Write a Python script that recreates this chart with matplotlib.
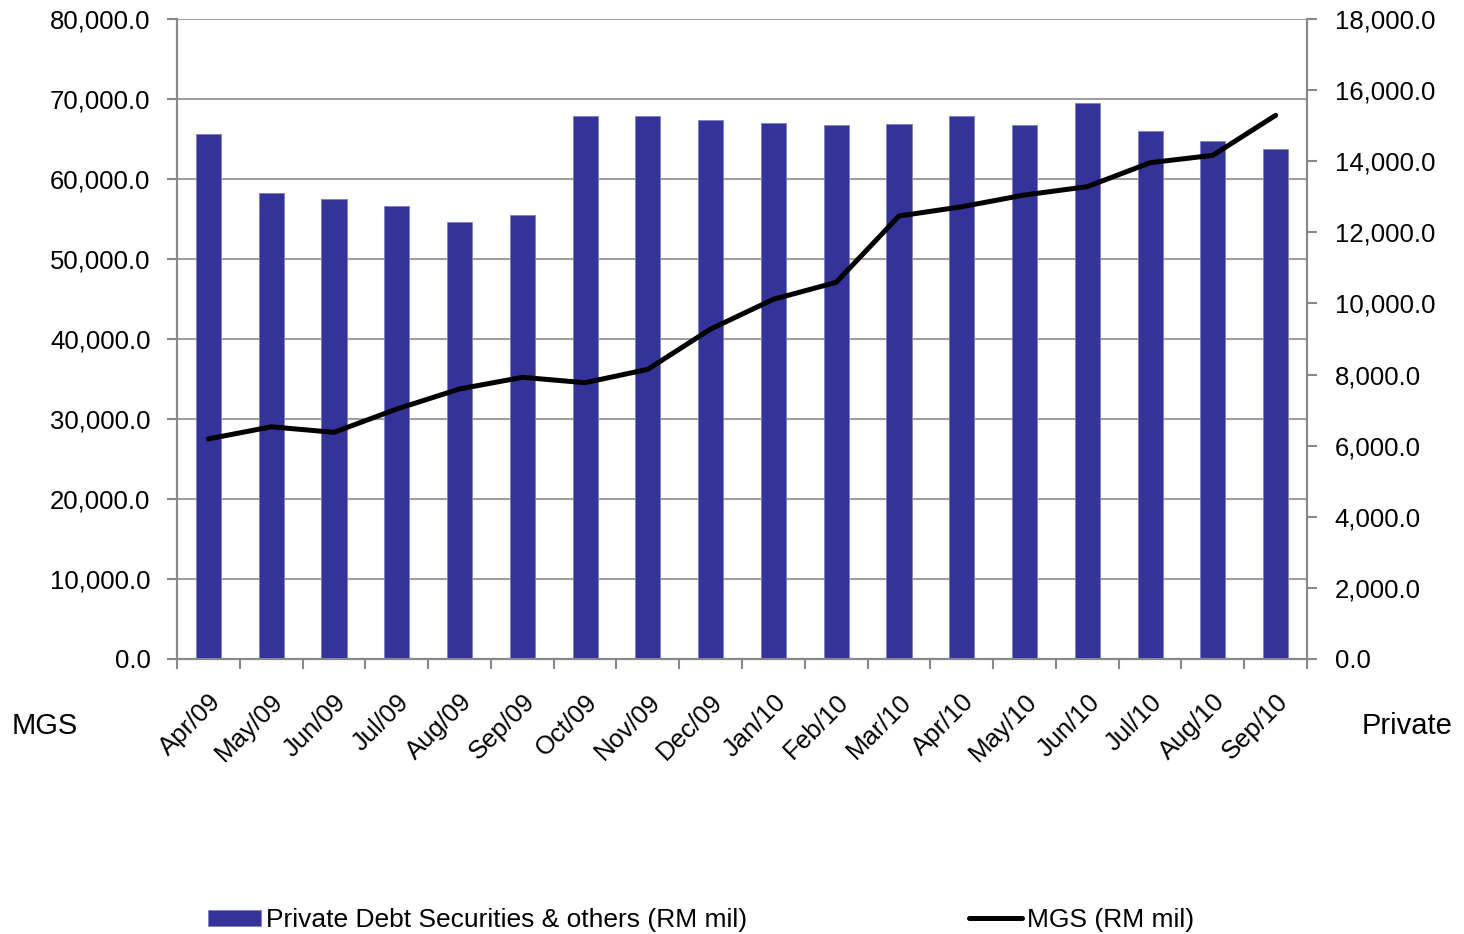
import matplotlib.pyplot as plt
import matplotlib.ticker as mticker
import numpy as np

plt.rcParams['font.family'] = ['Liberation Sans', 'DejaVu Sans']

months = ["Apr/09", "May/09", "Jun/09", "Jul/09", "Aug/09", "Sep/09",
          "Oct/09", "Nov/09", "Dec/09", "Jan/10", "Feb/10", "Mar/10",
          "Apr/10", "May/10", "Jun/10", "Jul/10", "Aug/10", "Sep/10"]

# Private Debt Securities & others (RM mil) - left axis
private_debt = [65660, 58290, 57460, 56660, 54660, 55460,
                67900, 67900, 67340, 67040, 66790, 66910,
                67900, 66750, 69540, 65960, 64790, 63700]

# MGS (RM mil) - right axis
mgs = [6190, 6530, 6375, 7030, 7594, 7922,
       7771, 8147, 9280, 10116, 10594, 12459,
       12720, 13050, 13284, 13958, 14166, 15291]

grey = "#888888"

fig = plt.figure(figsize=(14.64, 9.34), dpi=100)
ax = fig.add_axes([177 / 1464, 1 - 659 / 934, 1130 / 1464, 640 / 934])
ax2 = ax.twinx()

x = np.arange(len(months))
bars = ax.bar(x, private_debt, width=0.4, color="#333399",
              edgecolor="#8080c0", linewidth=0.6, zorder=3)
line, = ax2.plot(x, mgs, color="black", linewidth=3.6,
                 solid_capstyle="round", solid_joinstyle="miter", zorder=4)

ax.set_xlim(-0.5, len(months) - 0.5)
ax.set_ylim(0, 80000)
ax2.set_ylim(0, 18000)
ax.yaxis.set_major_locator(mticker.MultipleLocator(10000))
ax2.yaxis.set_major_locator(mticker.MultipleLocator(2000))
fmt = mticker.FuncFormatter(lambda v, p: f"{v:,.1f}")
ax.yaxis.set_major_formatter(fmt)
ax2.yaxis.set_major_formatter(fmt)

ax.grid(axis="y", color="#a0a0a0", linewidth=1.5, zorder=0)
ax.set_axisbelow(True)

for a in (ax, ax2):
    for s in a.spines.values():
        s.set_color(grey)
        s.set_linewidth(1.5)
    a.spines["top"].set_visible(False)

ax.set_xticks(np.arange(len(months) + 1) - 0.5, minor=False)
ax.set_xticklabels([])
ax.set_xticks(x, minor=True)
ax.set_xticklabels(months, minor=True, rotation=45, ha="right",
                   rotation_mode="anchor", fontsize=18.5)
ax.tick_params(axis="x", which="major", length=7, width=1.5, color=grey)
ax.tick_params(axis="x", which="minor", length=0, pad=22)
ax.tick_params(axis="y", length=7, width=1.5, color=grey, labelsize=18.5, pad=12)
ax2.tick_params(axis="y", length=7, width=1.5, color=grey, labelsize=18.5, pad=13)

fig.text(12 / 1464, 1 - 726 / 934, "MGS", fontsize=21, va="center", ha="left")
fig.text(1452 / 1464, 1 - 726 / 934, "Private", fontsize=21, va="center", ha="right")

fig.legend([bars, line],
           ["Private Debt Securities & others (RM mil)", "MGS (RM mil)"],
           loc="center left", bbox_to_anchor=(208 / 1464, 1 - 920 / 934),
           ncol=2, frameon=False, fontsize=19, handlelength=2.0,
           handleheight=0.55, handletextpad=0.2, columnspacing=8.4,
           borderpad=0, borderaxespad=0)

fig.savefig("out.png", dpi=100)
